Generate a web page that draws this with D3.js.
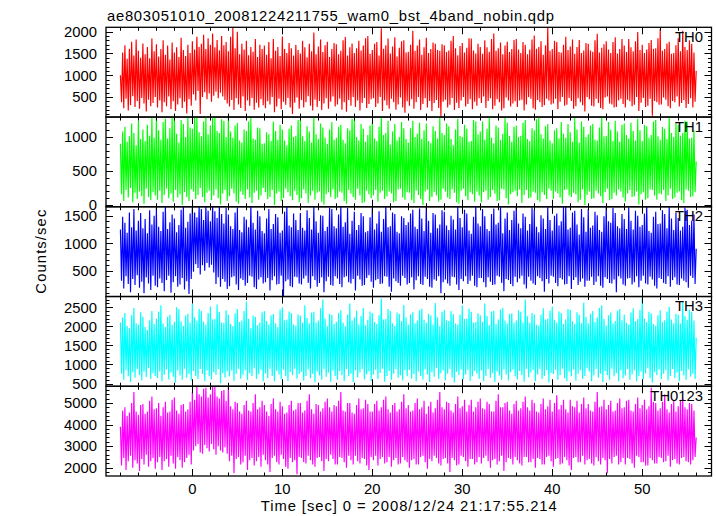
<!DOCTYPE html>
<html><head><meta charset="utf-8">
<script src="https://cdn.jsdelivr.net/npm/d3@7"></script>
<style>
html,body{margin:0;padding:0;background:#fff;}
svg{display:block;font-family:"Liberation Sans",Arial,Helvetica,sans-serif;}
</style></head>
<body>
<svg id="chart" width="717" height="516"></svg>
<script>
// ---- data (counts/sec, local extremes read every 0.125 s starting at t = -8 s) ----
const title = "ae803051010_20081224211755_wam0_bst_4band_nobin.qdp";
const xLabel = "Time [sec] 0 = 2008/12/24 21:17:55.214";
const yLabel = "Counts/sec";
const tStart = -8, tStep = 0.125;
const panelNames = ["TH0","TH1","TH2","TH3","TH0123"];
const panelColors = ["#ff0000","#00ff00","#0000ff","#00ffff","#ff00ff"];
const yDomains = [[40,2100],[-25,1294],[32,1662],[430,2780],[1617,5770]];
const yMajorTicks = [[500,1000,1500,2000],[0,500,1000],[500,1000,1500],[500,1000,1500,2000,2500],[2000,3000,4000,5000]];
const yMinorStep = [100,100,100,100,200];
const xMajorTicks = [0,10,20,30,40,50];
const xMinorStep = 2;
const xDomain = [-9.6,57.7];

const th0 = [
1000,380,1520,240,1690,460,1380,190,1610,310,1770,520,1450,270,1820,410,1560,230,1400,480,1730,350,1480,170,1650,440,1390,290,1840,360,1550,500,
1710,260,1430,420,1600,150,1800,380,1470,290,1680,510,1360,220,1750,400,1520,180,1640,330,1420,470,1860,250,1580,390,1440,120,1700,450,1510,300,
1780,560,1590,420,1880,640,1650,110,1720,500,1930,610,1600,450,1850,580,1700,390,1960,530,1640,620,1810,470,1570,600,1900,510,1690,430,1760,350,
1550,280,1880,430,2100,200,1620,470,2000,330,1480,250,1720,510,1590,180,1790,420,1460,300,1650,480,1540,210,1830,370,1420,260,1700,450,1600,310,
1680,240,1470,400,1760,330,1390,500,1830,150,1560,280,1650,460,1440,220,1890,390,1600,320,1510,480,1740,260,1620,110,1450,370,1700,490,1580,230,
1500,430,1790,260,1640,380,1410,520,1720,300,1550,190,1980,440,1480,270,1660,410,1820,200,1530,350,1690,470,1770,230,1420,390,1600,510,1740,280,
1710,330,1480,460,1560,210,1800,380,1880,160,1450,430,1640,300,1730,500,1510,270,1620,420,1790,190,1570,360,1680,480,1850,250,1900,340,1490,450,
1580,470,1720,270,1760,350,1450,500,2080,180,1610,420,1690,310,1840,230,1500,460,1660,380,1870,210,1430,330,1630,490,1780,260,1800,140,1520,400,
1540,300,1700,450,2020,230,1560,380,1680,500,1820,200,1470,340,1640,470,1860,260,1510,410,1600,180,1750,360,1720,430,1580,250,1560,60,1710,390,
1690,440,1530,260,1570,320,1790,480,1900,200,1620,370,1460,250,1670,420,1740,500,1520,280,1630,340,1850,450,1840,220,1570,390,1500,300,1720,470,
1650,360,1490,510,1800,250,1640,410,1540,470,1830,220,1960,300,1560,450,1620,380,1750,190,1480,240,1680,490,1770,420,1530,280,1600,350,1810,400,
1830,270,1590,420,1510,440,1760,190,1700,330,1480,500,1590,460,1820,240,1910,210,1610,430,1650,380,1780,270,1470,310,1690,460,2100,420,1560,330,
1600,350,1790,460,1760,220,1530,390,1520,500,1700,300,1880,320,1580,480,1660,410,1820,230,1490,290,1650,470,1810,380,1510,310,1570,170,1740,500,
1720,450,1570,300,1540,280,1800,460,1950,360,1520,250,1630,220,1710,490,1780,510,1590,350,1510,330,1760,260,1870,270,1500,420,1600,460,1830,340,
1680,260,1530,440,1830,400,1640,290,1550,320,1780,500,1990,180,1580,370,1700,480,1510,270,1590,300,1740,460,1810,70,1610,410,1620,380,1850,320,
2060,330,1560,490,1600,440,1730,290,1770,240,1490,410,1510,380,1690,510,1850,280,1550,360,2020,430,1650,250,1580,340,1800,470,1720,260,1520,390,
1100];
const th1 = [
900,160,1080,60,1150,220,930,110,1010,250,1200,40,1060,180,880,90,1240,200,970,130,1110,20,940,240,1180,120,1020,70,1290,190,990,140,
1290,80,1100,210,960,30,1220,150,1270,240,980,100,1130,170,1290,50,1290,220,1050,110,920,160,1250,0,1190,190,1000,120,1290,60,1140,230,
1120,200,1290,90,1290,150,1070,250,1010,120,1230,40,1290,180,1040,210,1170,70,1290,140,1290,230,1090,100,1060,10,1260,170,1240,220,1000,60,
1290,130,1080,240,990,170,1170,50,1210,20,950,200,920,150,1110,90,1090,230,1230,110,1280,30,980,180,960,210,1140,80,1130,140,900,250,
910,190,1070,90,1040,120,940,220,1230,0,1090,170,960,200,1180,60,1110,100,950,240,880,190,1120,130,1170,70,1000,210,1020,150,1250,40,
1250,100,1010,230,940,170,1160,30,1080,140,920,210,1290,80,1040,180,970,200,1200,50,1140,10,990,160,900,190,1110,120,1220,230,960,90,
990,110,1150,200,1180,180,960,60,910,20,1130,220,1100,170,1270,120,1260,80,1000,240,950,140,1190,30,1120,40,930,210,1030,160,1170,100,
1210,140,980,220,940,50,1150,180,1290,210,1030,90,1060,130,1240,200,890,170,1080,40,1190,60,950,230,1000,240,1220,110,1130,80,970,190,
920,180,1130,70,1240,30,1000,210,1050,150,1210,90,970,0,1100,200,1200,230,940,60,910,120,1160,190,1090,140,980,50,1280,80,1060,240,
1030,200,1200,110,1160,90,970,230,880,180,1110,40,1270,20,1020,210,1000,240,1180,130,1120,70,930,190,940,160,1250,50,1230,200,1040,140,
1080,40,1230,190,960,210,1120,80,1290,120,990,220,910,170,1170,60,1140,70,960,240,1050,230,1280,100,1210,10,1020,160,930,190,1150,210,
1170,130,1000,230,1020,30,1210,150,1250,220,970,100,940,110,1130,200,1100,180,1260,70,1290,50,1040,190,980,150,1160,90,1190,240,950,210,
910,90,1100,200,1130,170,980,110,1220,20,1050,220,990,230,1190,140,1070,120,930,180,1280,160,1110,40,920,80,1230,230,1150,0,1000,150,
1040,200,1170,90,1190,100,960,210,950,170,1140,130,1290,30,1010,190,1020,240,1220,70,1110,90,940,180,1240,140,1080,230,930,200,1180,110,
1200,50,1030,170,980,220,1210,120,1090,130,950,200,1270,10,1100,160,940,190,1180,80,1160,100,990,230,1030,220,1230,140,1250,80,1010,170,
960,160,1150,220,1120,60,970,140,1290,240,1060,90,1000,110,1210,180,1180,200,1020,70,1060,30,1240,230,1230,210,980,120,990,130,1100,190,
640];
const th2 = [
1250,320,1480,180,1370,400,1190,260,1560,110,1290,350,1620,240,1230,420,1410,190,1550,300,1270,90,1440,380,1180,270,1600,150,1340,410,1500,230,
1640,200,1300,360,1220,280,1570,130,1700,330,1260,410,1380,100,1520,290,1450,400,1200,210,1330,250,1610,370,1680,160,1280,310,1390,80,1540,350,
1700,480,1560,620,1470,550,1690,430,1620,600,1420,500,1700,640,1590,560,1400,610,1700,470,1580,260,1460,380,1680,210,1530,350,1360,300,1640,170,
1520,220,1310,380,1260,400,1560,250,1650,150,1240,360,1200,330,1480,230,1430,280,1290,410,1700,390,1370,200,1250,170,1590,340,1490,380,1220,270,
1180,290,1450,370,1620,140,1260,330,1350,400,1530,250,1470,260,1190,410,1230,40,1570,310,1690,340,1320,220,1290,200,1540,390,1420,380,1240,270,
1550,250,1280,360,1230,410,1600,280,1460,180,1250,400,1680,330,1400,210,1190,280,1510,380,1500,110,1220,310,1300,390,1650,240,1620,230,1310,400,
1270,360,1520,260,1700,200,1300,380,1380,400,1640,290,1170,270,1410,350,1570,140,1240,410,1330,340,1550,230,1490,240,1200,370,1220,420,1470,300,
1640,190,1250,330,1360,350,1580,260,1210,270,1440,400,1700,390,1290,210,1310,120,1560,360,1530,310,1210,280,1180,230,1490,410,1460,370,1330,250,
1380,280,1540,380,1610,160,1300,330,1260,400,1630,260,1450,240,1220,390,1690,350,1410,210,1190,190,1550,340,1520,320,1270,400,1340,90,1600,290,
1570,340,1320,270,1240,230,1500,390,1430,380,1250,250,1670,150,1460,350,1290,310,1610,400,1540,260,1230,320,1170,410,1480,230,1700,200,1360,370,
1310,370,1620,290,1490,200,1260,380,1220,300,1530,240,1630,250,1340,410,1370,390,1670,280,1180,130,1450,350,1560,330,1240,260,1420,220,1590,390,
1700,290,1360,360,1270,410,1540,250,1480,180,1230,390,1350,320,1650,270,1610,240,1300,400,1200,370,1510,310,1450,120,1260,350,1670,270,1420,410,
1230,390,1500,280,1540,220,1320,370,1400,340,1660,250,1700,260,1250,400,1280,170,1560,330,1590,380,1340,240,1160,300,1620,360,1470,210,1210,320,
1620,320,1280,390,1320,240,1570,300,1510,400,1240,230,1210,190,1490,380,1680,350,1400,280,1370,270,1640,340,1550,110,1310,400,1270,360,1530,250,
1440,230,1260,360,1650,370,1410,250,1250,290,1590,400,1500,200,1300,320,1330,410,1540,270,1700,250,1220,390,1190,340,1480,230,1570,180,1350,370,
1360,350,1600,280,1530,260,1270,400,1670,210,1450,330,1240,380,1560,250,1460,240,1230,360,1300,320,1650,290,1610,190,1330,410,1410,370,1520,260,
900];
const th3 = [
2100,760,2230,600,2350,850,2010,690,1950,540,2290,800,2480,650,2080,880,2050,720,2370,580,2250,810,1980,670,1900,900,2160,620,2400,770,2060,700,
2200,640,2390,820,2550,560,2070,730,1980,870,2250,610,2300,790,2040,680,2120,530,2500,840,2450,710,2130,600,2010,890,2280,650,2330,760,2090,580,
2600,830,2240,700,2150,620,2460,880,2400,750,2120,560,2050,840,2350,690,2520,610,2180,800,2200,730,2570,880,2380,510,2100,770,2090,650,2420,820,
2300,690,2060,840,2000,570,2340,760,2450,880,2110,630,2150,720,2400,850,2650,590,2190,780,1950,690,2280,900,2250,620,2030,740,2100,860,2370,560,
2400,770,2140,640,2050,880,2290,700,2320,560,2080,830,1980,740,2440,610,2500,860,2160,690,2180,570,2390,800,2350,720,2050,890,2020,630,2310,750,
2280,810,2090,580,2550,700,2220,860,2080,640,2360,760,2380,530,2100,820,2150,710,2470,600,2700,880,2200,680,2000,790,2330,550,2300,840,2060,700,
2120,600,2350,830,2420,720,2090,570,2000,880,2300,690,2600,760,2150,540,2230,850,2410,660,2050,790,2270,880,2480,610,2030,740,2170,820,2390,560,
2350,740,2110,860,2060,620,2290,780,2730,890,2180,550,2190,700,2450,830,2400,600,2070,760,2010,880,2360,650,2320,720,2140,580,2560,850,2230,690,
2050,860,2310,630,2370,750,2080,560,2150,820,2420,700,2460,610,2170,870,2090,740,2330,540,2280,800,2050,680,2610,900,2240,620,2000,770,2380,850,
2430,590,2160,760,2140,880,2400,650,2320,530,2070,810,2050,720,2300,870,2550,610,2190,740,2200,850,2460,570,2380,690,2100,830,2110,760,2340,620,
2290,840,2120,560,2600,700,2270,880,2030,650,2390,780,2410,540,2060,820,2180,710,2440,600,2480,870,2150,740,2070,580,2320,800,2340,860,2090,690,
2150,610,2420,830,2380,720,2100,550,2700,880,2260,660,2090,790,2350,860,2310,570,2040,740,2020,880,2300,620,2470,700,2180,850,2200,530,2410,780,
2520,750,2170,860,2100,600,2390,720,2350,890,2060,640,2180,560,2450,810,2430,690,2130,870,2060,580,2370,760,2300,850,2080,620,2620,700,2250,900,
2080,820,2330,560,2400,710,2110,880,2230,650,2480,760,2550,540,2190,830,2020,720,2290,600,2360,890,2070,690,2140,780,2410,560,2450,850,2160,640,
2300,710,2090,880,2050,600,2360,740,2470,850,2140,560,2190,690,2430,820,2750,610,2200,770,2110,900,2380,640,2340,530,2060,800,2020,720,2290,870,
2420,620,2120,760,2160,850,2390,580,2510,700,2180,880,2080,640,2330,790,2300,560,2070,830,2640,710,2260,600,2170,870,2440,680,2380,760,2150,620,
1700];
const th0123 = [
3900,2100,4650,2450,4800,1900,4400,2300,4550,2550,5000,2000,5500,2350,4600,2200,4450,1850,4900,2400,4950,2150,4500,2600,4600,2050,5100,2300,5300,2450,4700,1950,
4750,2250,5000,2500,4400,1900,4800,2300,5050,2400,4550,2050,4600,2550,5150,2200,5250,1950,4650,2500,4500,2350,4900,2000,4950,2250,4600,2450,4700,2600,5050,2150,
5500,2800,5150,3000,5770,3100,5400,2700,5300,2650,5650,3050,5700,2900,5250,2750,5400,3100,5770,2850,5750,2600,5300,3000,5200,2800,5550,2700,5600,2950,5100,2650,
5770,2300,4850,2550,4700,1750,5050,2400,5000,2500,4600,2150,4500,2250,4900,2550,5100,1900,4650,2350,4600,2450,5000,2100,5400,2300,4700,2500,4800,2050,5100,2600,
4900,2350,4600,2150,4400,1800,4950,2450,5200,2550,4700,2250,4600,2150,5050,2600,4850,2400,4500,2050,4550,1950,4900,2450,5100,2250,4650,2350,4700,1700,5000,2500,
5000,2450,4550,2250,4650,2200,5100,2550,5400,2350,4700,2150,4500,2050,4950,2450,4900,2500,4600,2300,4750,1850,5050,2400,5200,2300,4800,2600,4600,2400,4900,2150,
4850,2150,5100,2500,5500,2450,4650,2250,4600,2000,5000,2550,5000,2350,4550,2150,4500,2550,4900,2300,5200,2200,4700,2450,4750,2400,5150,2100,4950,1900,4600,2500,
4600,2350,4950,2550,5100,2100,4650,2400,4800,2500,5150,2200,5300,2250,4700,2500,4550,2050,4900,2350,5000,2450,4600,2150,4700,2200,5050,2500,5400,2350,4750,2250,
4900,2000,4600,2350,4650,2400,5000,2150,5200,2150,4700,2500,4800,2550,5100,2250,4500,1950,4850,2400,5050,2300,4550,2550,4750,2450,5150,2200,5500,2100,4800,2400,
4700,2450,5050,2200,5000,1800,4650,2450,4550,2350,4950,2100,5300,2150,4750,2550,4850,2500,5150,2300,4600,2050,4900,2400,5150,2400,4600,2150,4800,2250,5050,2500,
5200,2200,4750,2450,4700,2550,5050,2300,4950,2000,4600,2350,4600,2400,5100,2150,5400,2300,4800,2550,4800,1850,5000,2250,5050,2450,4650,2400,4500,2150,4950,2500,
5100,2350,4650,2200,4750,2100,5050,2500,5300,2500,4800,2250,4650,2250,5150,2400,5000,2000,4600,2450,4550,2400,4950,2150,5200,2150,4700,2500,4850,2550,5150,2300,
4600,2050,5000,2400,5350,2450,4700,2150,4900,2200,5150,2500,4700,2350,4550,2100,5150,1900,4850,2450,4800,2500,5100,2250,4550,2250,4950,2550,5250,2150,4750,2350,
4950,2400,4650,2200,4600,2100,5050,2500,5500,2300,4800,2150,4850,2450,5150,2350,4700,1750,4900,2400,5100,2200,4600,2500,4650,2550,5000,2150,5200,2250,4750,2450,
4800,2150,5100,2450,5150,2400,4650,2200,4600,2000,4950,2550,5250,2500,4750,2250,4900,2250,5150,2100,4700,2100,4850,2450,5700,2350,5050,2200,5000,2200,4650,2500,
4750,2450,5050,2250,5400,2300,4700,2550,4550,2050,4950,2350,5100,2400,4600,2200,4850,2150,5150,2450,5200,2500,4800,2300,4700,2250,5000,2150,4950,2350,4650,2500,
3400];
const seriesValues = [th0, th1, th2, th3, th0123];

// ---- layout ----
const svg = d3.select("#chart");
const plotLeft = 106, plotRight = 711.5, plotTop = 27.3, plotBottom = 476;
const nP = panelNames.length;
const pH = (plotBottom - plotTop) / nP;
const x = d3.scaleLinear().domain(xDomain).range([plotLeft, plotRight]);
const FS = 14.8;

svg.append("text").attr("x", 107).attr("y", 20.5)
  .attr("font-size", FS).attr("fill", "#000")
  .attr("textLength", 447).attr("lengthAdjust", "spacing").text(title);

const xMinor = d3.range(Math.ceil(xDomain[0]/xMinorStep)*xMinorStep, xDomain[1], xMinorStep)
  .filter(v => !xMajorTicks.includes(v));

seriesValues.forEach((vals, p) => {
  const top = plotTop + p*pH, bot = top + pH;
  const y = d3.scaleLinear().domain(yDomains[p]).range([bot, top]);
  const g = svg.append("g");
  const cid = "clip" + p;
  svg.append("clipPath").attr("id", cid).append("rect")
    .attr("x", plotLeft).attr("y", top).attr("width", plotRight - plotLeft).attr("height", pH);
  const line = d3.line().x((d,i) => x(tStart + i*tStep)).y(d => y(d));
  g.append("path").datum(vals).attr("clip-path", `url(#${cid})`)
    .attr("d", line).attr("fill", "none").attr("stroke", panelColors[p])
    .attr("stroke-width", 1.15).attr("stroke-linejoin", "bevel");

  // ticks
  const tk = svg.append("g").attr("stroke", "#000").attr("stroke-width", 1);
  const yMinor = d3.range(Math.ceil(yDomains[p][0]/yMinorStep[p])*yMinorStep[p], yDomains[p][1], yMinorStep[p])
    .filter(v => !yMajorTicks[p].includes(v));
  const addY = (vals, len) => vals.forEach(v => {
    const yy = Math.round(y(v)) + 0.5;
    tk.append("line").attr("x1", plotLeft).attr("x2", plotLeft + len).attr("y1", yy).attr("y2", yy);
    tk.append("line").attr("x1", plotRight).attr("x2", plotRight - len).attr("y1", yy).attr("y2", yy);
  });
  addY(yMajorTicks[p], 7); addY(yMinor, 3.5);
  const addX = (vals, len) => vals.forEach(v => {
    const xx = Math.round(x(v)) + 0.5;
    tk.append("line").attr("x1", xx).attr("x2", xx).attr("y1", bot).attr("y2", bot - len);
    tk.append("line").attr("x1", xx).attr("x2", xx).attr("y1", top).attr("y2", top + len);
  });
  addX(xMajorTicks, 7); addX(xMinor, 3.5);

  // y tick labels
  svg.append("g").selectAll("text").data(yMajorTicks[p]).join("text")
    .attr("x", 97).attr("y", d => y(d)).attr("dy", "0.36em")
    .attr("text-anchor", "end").attr("font-size", FS).text(d => d);

  // panel label
  svg.append("text").attr("x", 703).attr("y", top + 14.5)
    .attr("text-anchor", "end").attr("font-size", FS).text(panelNames[p]);

  // frame
  svg.append("rect").attr("x", plotLeft).attr("y", top).attr("width", plotRight - plotLeft).attr("height", pH)
    .attr("fill", "none").attr("stroke", "#000").attr("stroke-width", 1.3);
});

// x tick labels
svg.append("g").selectAll("text").data(xMajorTicks).join("text")
  .attr("x", d => x(d)).attr("y", 493.5).attr("text-anchor", "middle")
  .attr("font-size", FS).text(d => d);

svg.append("text").attr("x", (plotLeft + plotRight)/2).attr("y", 510.5)
  .attr("text-anchor", "middle").attr("font-size", FS)
  .attr("textLength", 296).attr("lengthAdjust", "spacing").text(xLabel);

svg.append("text").attr("transform", `translate(46,${(plotTop+plotBottom)/2}) rotate(-90)`)
  .attr("text-anchor", "middle").attr("font-size", FS)
  .attr("textLength", 84).attr("lengthAdjust", "spacing").text(yLabel);
</script>
</body></html>
